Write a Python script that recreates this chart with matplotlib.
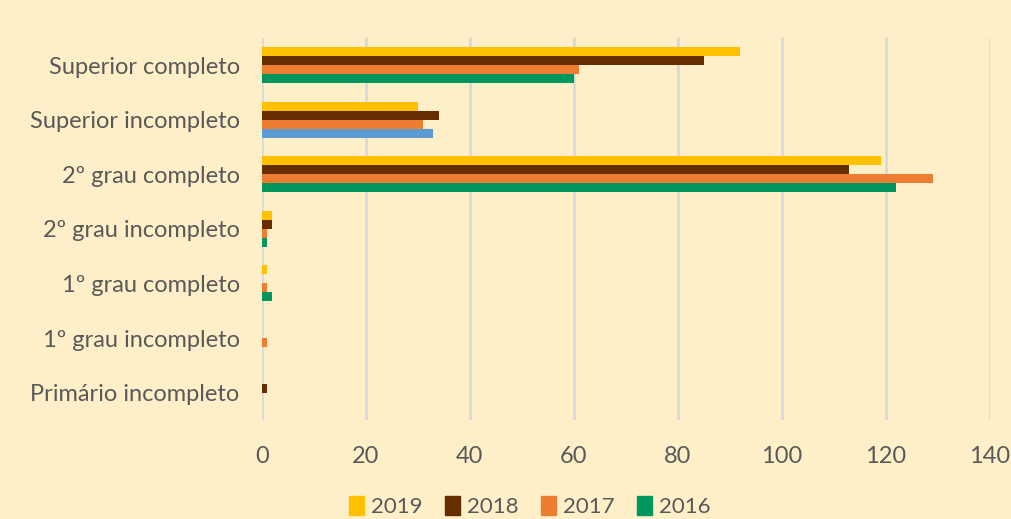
import matplotlib.pyplot as plt
import numpy as np

categories = ["Superior completo", "Superior incompleto", "2º grau completo",
              "2º grau incompleto", "1º grau completo", "1º grau incompleto",
              "Primário incompleto"]
years = ["2019", "2018", "2017", "2016"]
v2019 = [92, 30, 119, 2, 1, 0, 0]
v2018 = [85, 34, 113, 2, 0, 0, 1]
v2017 = [61, 31, 129, 1, 1, 1, 0]
v2016 = [60, 33, 122, 1, 2, 0, 0]
xticks = [0, 20, 40, 60, 80, 100, 120, 140]

colors = {"2019": "#FFC000", "2018": "#662E00", "2017": "#ED7D31", "2016": "#00965E"}
highlight_color = "#5B9BD5"   # 2016 bar for "Superior incompleto"

bg = "#FFEFC8"
text_color = "#595959"
plt.rcParams["font.family"] = ["Lato", "DejaVu Sans"]

fig = plt.figure(figsize=(10.11, 5.19), dpi=100, facecolor=bg)
ax = fig.add_axes([0.259, 0.191, 0.72, 0.736], facecolor=bg)

series = [v2019, v2018, v2017, v2016]
n = len(series)
bar_h = 0.165
y = np.arange(len(categories))
for i, (yr, vals) in enumerate(zip(years, series)):
    offs = (i - (n - 1) / 2) * bar_h
    cols = [colors[yr]] * len(vals)
    if yr == "2016":
        cols[1] = highlight_color
    ax.barh(y + offs, vals, height=bar_h, color=cols, label=yr, zorder=3)

ax.set_ylim(len(categories) - 0.5, -0.5)
ax.set_xlim(0, 140)
ax.set_xticks(xticks)
ax.set_yticks(y)
ax.set_yticklabels(categories)
ax.tick_params(axis="both", length=0, labelsize=17, colors=text_color)
ax.tick_params(axis="x", pad=19)
ax.tick_params(axis="y", pad=16)
ax.grid(axis="x", color="#D9D9D9", linewidth=2, zorder=0)
for s in ax.spines.values():
    s.set_visible(False)

handles = [plt.Rectangle((0, 0), 1, 1, color=colors[yr]) for yr in years]
fig.legend(handles, years, loc="lower center", bbox_to_anchor=(0.524, -0.035),
           ncol=4, frameon=False, fontsize=16, labelcolor=text_color,
           handlelength=0.7, handleheight=0.9, handletextpad=0.3, columnspacing=1.0)

fig.savefig("out.png", dpi=100, facecolor=bg)
